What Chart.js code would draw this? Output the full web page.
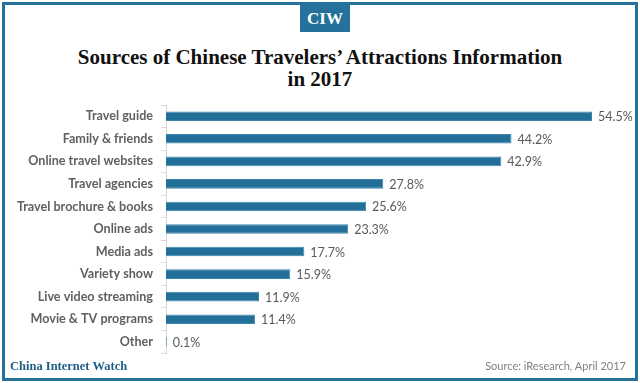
<!DOCTYPE html>
<html>
<head>
<meta charset="utf-8">
<script src="https://cdn.jsdelivr.net/npm/chart.js@4.4.0/dist/chart.umd.min.js"></script>
<style>
html,body{margin:0;padding:0;width:640px;height:383px;overflow:hidden;background:#fff;}
#frame{position:absolute;left:2px;top:2px;width:636px;height:379px;box-sizing:border-box;border:3px solid #24729c;}
#badge{position:absolute;left:300px;top:4px;width:50px;height:28px;background:#24729c;color:#fff;font:bold 17px "Liberation Serif",serif;text-align:center;line-height:29px;}
#title{position:absolute;left:0;top:46px;width:640px;text-align:center;font:bold 21px/22px "Liberation Serif",serif;color:#111;}
#brand{position:absolute;left:10px;top:359px;font:bold 12.5px "Liberation Serif",serif;color:#1d5f86;}
#source{position:absolute;right:14px;top:359px;font:11px "Lato",sans-serif;color:#808080;}
#c{position:absolute;left:0;top:0;}
</style>
</head>
<body>
<div id="frame"></div>
<div id="badge">CIW</div>
<div id="title">Sources of Chinese Travelers’ Attractions Information<br>in 2017</div>
<canvas id="c" width="640" height="383"></canvas>
<div id="brand">China Internet Watch</div>
<div id="source">Source: iResearch, April 2017</div>
<script>
const categories = ["Travel guide","Family & friends","Online travel websites","Travel agencies","Travel brochure & books","Online ads","Media ads","Variety show","Live video streaming","Movie & TV programs","Other"];
const values = [54.5,44.2,42.9,27.8,25.6,23.3,17.7,15.9,11.9,11.4,0.1];

const valueLabels = {
  id:'valueLabels',
  afterDatasetsDraw(chart){
    const ctx = chart.ctx;
    const meta = chart.getDatasetMeta(0);
    ctx.save();
    ctx.font = '12.5px Lato, sans-serif';
    ctx.fillStyle = '#595959';
    ctx.textBaseline = 'middle';
    ctx.textAlign = 'left';
    meta.data.forEach((bar,i)=>{
      ctx.fillText(values[i].toFixed(1)+'%', bar.x+6, bar.y+1);
    });
    ctx.restore();
  }
};

new Chart(document.getElementById('c'),{
  type:'bar',
  data:{labels:categories,datasets:[{data:values,backgroundColor:'#226f99',borderColor:'#3f86ad',borderWidth:1,barPercentage:0.85,categoryPercentage:0.5}]},
  plugins:[valueLabels],
  options:{
    indexAxis:'y',
    responsive:false,
    animation:false,
    layout:{padding:{left:0,top:105,right:5,bottom:30}},
    plugins:{legend:{display:false},tooltip:{enabled:false},title:{display:false}},
    scales:{
      x:{display:false,min:0,max:60},
      y:{
        afterFit(s){s.width=166;},
        grid:{display:true,drawOnChartArea:false,offset:true,tickLength:5,color:'#d9d9d9'},
        border:{display:true,color:'#d9d9d9'},
        ticks:{font:{family:'Lato',size:12.6,weight:'bold'},color:'#606060',padding:8}
      }
    }
  }
});
</script>
</body>
</html>
